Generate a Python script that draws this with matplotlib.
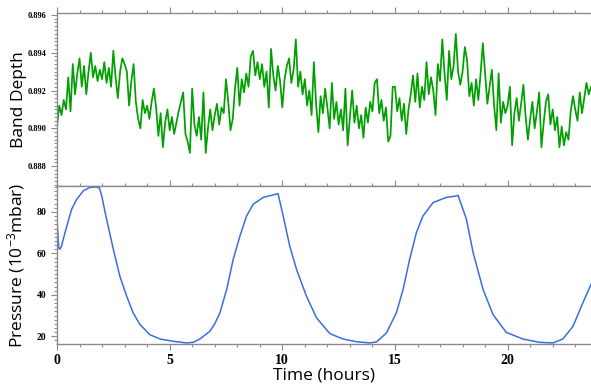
import numpy as np
import matplotlib
matplotlib.use('Agg')
import matplotlib.pyplot as plt
from matplotlib.ticker import MultipleLocator, FormatStrFormatter
from matplotlib.font_manager import FontProperties

# ---- data ----
band_step_hours = 0.1
band_depth = [
    0.8901, 0.8912, 0.8907, 0.8915, 0.8910, 0.8927, 0.8909, 0.8934, 0.8918, 0.8929,
    0.8937, 0.8922, 0.8933, 0.8918, 0.8930, 0.8940, 0.8927, 0.8933, 0.8925, 0.8931,
    0.8926, 0.8935, 0.8924, 0.8932, 0.8922, 0.8941, 0.8927, 0.8916, 0.8930, 0.8937,
    0.8934, 0.8930, 0.8912, 0.8925, 0.8934, 0.8914, 0.8905, 0.8900, 0.8915, 0.8908,
    0.8912, 0.8905, 0.8914, 0.8921, 0.8911, 0.8896, 0.8908, 0.8890, 0.8903, 0.8910,
    0.8899, 0.8906, 0.8897, 0.8903, 0.8909, 0.8914, 0.8919, 0.8897, 0.8893, 0.8887,
    0.8921, 0.8902, 0.8896, 0.8906, 0.8894, 0.8919, 0.8887, 0.8900, 0.8910, 0.8899,
    0.8907, 0.8913, 0.8902, 0.8911, 0.8908, 0.8926, 0.8914, 0.8899, 0.8905, 0.8921,
    0.8932, 0.8912, 0.8926, 0.8919, 0.8929, 0.8922, 0.8938, 0.8941, 0.8928, 0.8935,
    0.8926, 0.8934, 0.8922, 0.8930, 0.8911, 0.8942, 0.8928, 0.8920, 0.8933, 0.8925,
    0.8911, 0.8926, 0.8933, 0.8937, 0.8924, 0.8931, 0.8947, 0.8922, 0.8930, 0.8918,
    0.8926, 0.8912, 0.8920, 0.8907, 0.8935, 0.8913, 0.8898, 0.8917, 0.8908, 0.8921,
    0.8911, 0.8900, 0.8924, 0.8905, 0.8914, 0.8902, 0.8910, 0.8899, 0.8921, 0.8891,
    0.8906, 0.8920, 0.8903, 0.8912, 0.8900, 0.8907, 0.8895, 0.8911, 0.8903, 0.8914,
    0.8909, 0.8924, 0.8926, 0.8908, 0.8915, 0.8904, 0.8911, 0.8893, 0.8896, 0.8922,
    0.8922, 0.8909, 0.8916, 0.8904, 0.8913, 0.8897, 0.8910, 0.8918, 0.8928, 0.8914,
    0.8929, 0.8911, 0.8922, 0.8915, 0.8935, 0.8918, 0.8927, 0.8920, 0.8907, 0.8934,
    0.8925, 0.8947, 0.8929, 0.8915, 0.8941, 0.8926, 0.8933, 0.8950, 0.8930, 0.8923,
    0.8930, 0.8943, 0.8936, 0.8917, 0.8924, 0.8912, 0.8926, 0.8915, 0.8929, 0.8945,
    0.8929, 0.8913, 0.8922, 0.8931, 0.8912, 0.8899, 0.8929, 0.8903, 0.8914, 0.8908,
    0.8912, 0.8922, 0.8891, 0.8908, 0.8916, 0.8904, 0.8913, 0.8923, 0.8906, 0.8894,
    0.8905, 0.8914, 0.8900, 0.8909, 0.8919, 0.8890, 0.8903, 0.8914, 0.8918, 0.8902,
    0.8910, 0.8899, 0.8906, 0.8890, 0.8901, 0.8891, 0.8898, 0.8894, 0.8909, 0.8917,
    0.8910, 0.8904, 0.8919, 0.8908, 0.8916, 0.8924, 0.8918, 0.8922,
]

pressure_hours = [
    0.00, 0.08, 0.13, 0.20, 0.43, 0.65, 0.87, 1.17, 1.46, 1.70, 1.88, 1.98,
    2.20, 2.50, 2.79, 3.09, 3.38, 3.68, 4.12, 4.57, 5.16, 5.75, 6.04, 6.34,
    6.78, 7.00, 7.23, 7.53, 7.82, 8.12, 8.41, 8.71, 9.15, 9.74, 9.81, 10.04, 10.33,
    10.63, 11.07, 11.52, 12.11, 12.70, 13.29, 13.88, 14.18, 14.62, 15.06, 15.36,
    15.65, 15.95, 16.24, 16.69, 17.28, 17.73, 17.80, 18.17, 18.47, 18.91, 19.35,
    19.94, 20.68, 21.42, 22.01, 22.45, 22.90, 23.34, 23.70,
]
pressure_values = [
    75.6, 62.5, 62.0, 63.5, 73.0, 81.3, 86.0, 90.2, 91.8, 92.0, 91.6, 88.0,
    76.5, 62.0, 49.0, 39.4, 31.3, 25.7, 20.8, 18.7, 17.6, 16.8, 17.1, 18.7,
    22.4, 26.0, 31.3, 42.6, 57.1, 68.4, 78.0, 83.7, 87.0, 88.6, 88.8, 78.0, 63.5,
    52.3, 39.4, 28.9, 21.3, 18.7, 17.4, 16.8, 17.3, 21.6, 31.3, 42.6,
    57.1, 70.0, 78.0, 84.5, 87.0, 87.7, 88.0, 76.5, 60.3, 42.6, 30.5,
    21.9, 18.7, 17.1, 16.8, 18.7, 24.8, 36.2, 45.0,
]

band_hours = np.arange(len(band_depth)) * band_step_hours

plt.rcParams['mathtext.fontset'] = 'custom'
plt.rcParams['mathtext.rm'] = 'Open Sans'
plt.rcParams['mathtext.default'] = 'regular'

fig = plt.figure(figsize=(5.91, 3.84), dpi=100)
W, H = 591.0, 384.0
ax1 = fig.add_axes([57 / W, 1 - 186 / H, 1 - 57 / W, (186 - 13) / H])
ax2 = fig.add_axes([57 / W, 1 - 344 / H, 1 - 57 / W, (344 - 186) / H])

spine_col = '#8a8a8a'
tick_font = dict(family='Liberation Serif', weight='bold')

for ax in (ax1, ax2):
    for s in ax.spines.values():
        s.set_color(spine_col)
        s.set_linewidth(1.0)
    ax.spines['right'].set_visible(False)
    ax.set_xlim(0, 23.7)
    ax.xaxis.set_major_locator(MultipleLocator(5))
    ax.xaxis.set_minor_locator(MultipleLocator(1))
    ax.tick_params(which='both', direction='out', color=spine_col, width=0.8)
    ax.tick_params(which='major', length=4)
    ax.tick_params(which='minor', length=2.5)

ax1.plot(band_hours, band_depth, color='#00a000', lw=1.25)
ax1.set_ylim(0.88695, 0.8961)
ax1.yaxis.set_major_locator(MultipleLocator(0.002))
ax1.yaxis.set_minor_locator(MultipleLocator(0.0002))
ax1.yaxis.set_major_formatter(FormatStrFormatter('%.3f'))
ax1.tick_params(axis='x', which='both', bottom=False, top=True, labelbottom=False)
ax1.tick_params(axis='y', which='both', right=False)
for lab in ax1.get_yticklabels():
    lab.set_fontproperties(FontProperties(size=6, **tick_font))
ax1.set_ylabel('Band Depth', family='Open Sans', fontsize=12.5)

ax2.plot(pressure_hours, pressure_values, color='#3a6ee0', lw=1.1)
ax2.set_ylim(16.3, 92.5)
ax2.yaxis.set_major_locator(MultipleLocator(20))
ax2.yaxis.set_minor_locator(MultipleLocator(2))
ax2.tick_params(axis='x', which='both', bottom=True, top=True)
ax2.tick_params(axis='y', which='both', right=False)
for lab in ax2.get_yticklabels():
    lab.set_fontproperties(FontProperties(size=7, **tick_font))
for lab in ax2.get_xticklabels():
    lab.set_fontproperties(FontProperties(size=10, **tick_font))
ax2.set_ylabel('Pressure (10$^{-3}$mbar)', family='Open Sans', fontsize=12.5)
ax2.set_xlabel('Time (hours)', family='Open Sans', fontsize=12.5, labelpad=0)

for ax in (ax1, ax2):
    ax.yaxis.set_label_coords(-0.056, 0.5)

fig.savefig('out.png', dpi=100)
